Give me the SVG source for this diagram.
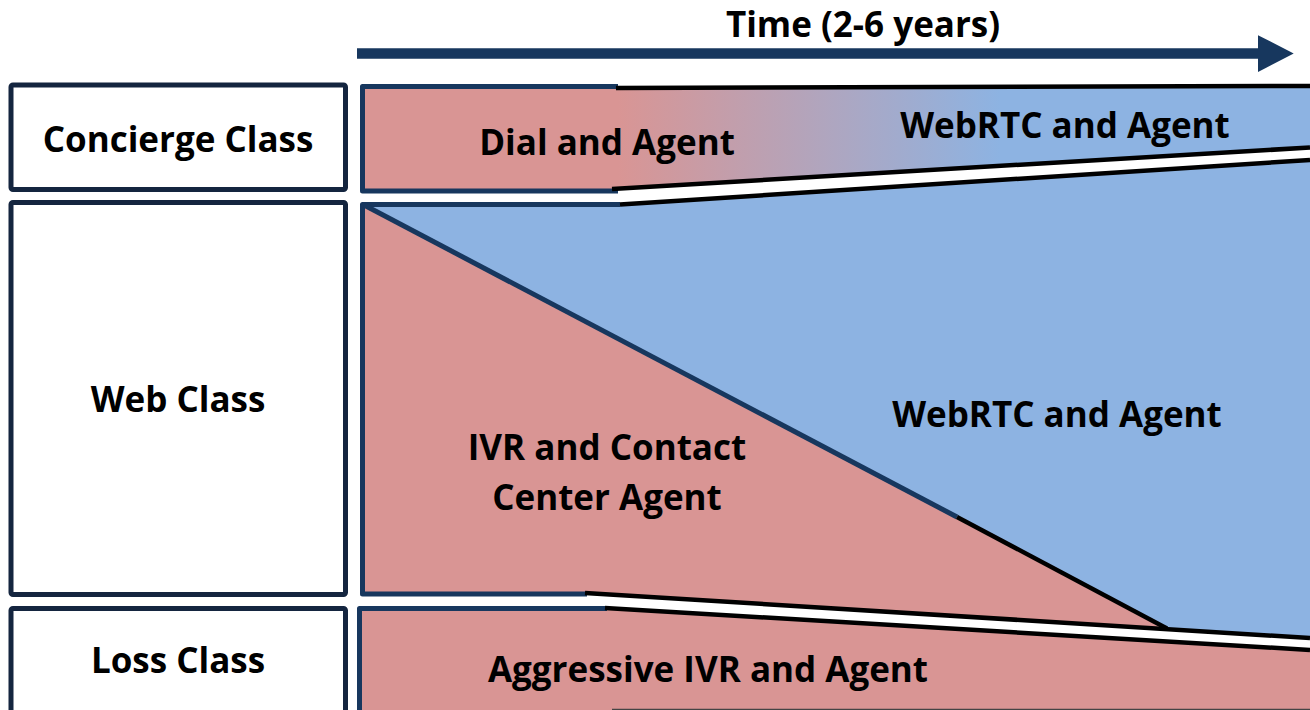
<svg xmlns="http://www.w3.org/2000/svg" width="1310" height="710" viewBox="0 0 1310 710">
  <style>
    .lbl { font-family: "Open Sans", "Liberation Sans", sans-serif; font-weight: bold; font-size: 35px; fill: #000; text-anchor: middle; }
    .box { fill: #fff; stroke: #14253f; stroke-width: 5; }
    .edge { fill: none; stroke: #17375e; stroke-width: 5; stroke-linejoin: round; }
    .rule { fill: none; stroke: #000; stroke-width: 4.5; }
    .pink { fill: #d99594; }
    .blue { fill: #8db3e2; }
  </style>
  <defs>
    <linearGradient id="shift" gradientUnits="userSpaceOnUse" x1="618" y1="0" x2="1000" y2="0">
      <stop offset="0" stop-color="#d99594"/>
      <stop offset="1" stop-color="#8db3e2"/>
    </linearGradient>
    <marker id="head" viewBox="0 0 10 10" refX="0" refY="5" markerWidth="3.4" markerHeight="3.5" markerUnits="strokeWidth" orient="auto" preserveAspectRatio="none">
      <path d="M0,0 L10,5 L0,10 z" fill="#17375e"/>
    </marker>
  </defs>

  <rect width="1310" height="710" fill="#fff"/>

  <!-- row labels -->
  <g id="concierge-class">
    <rect class="box" x="11" y="85" width="334.5" height="104.5" rx="2"/>
    <text class="lbl" x="178" y="152">Concierge Class</text>
  </g>
  <g id="web-class">
    <rect class="box" x="11" y="202.5" width="334.5" height="392" rx="2"/>
    <text class="lbl" x="178" y="412">Web Class</text>
  </g>
  <g id="loss-class">
    <rect class="box" x="11" y="608.5" width="334.5" height="110" rx="2"/>
    <text class="lbl" x="178" y="673">Loss Class</text>
  </g>

  <!-- concierge band: dial fading into WebRTC -->
  <g id="concierge-band">
    <rect class="pink" x="362" y="86.5" width="256" height="104"/>
    <polygon points="616,87.5 1310,86 1310,147.5 616,189" fill="url(#shift)"/>
    <path class="edge" d="M618,86.5 H362.5 V191 H618"/>
    <path class="rule" d="M616,88 L1310,86"/>
    <path class="rule" d="M612,189 L1310,147.5"/>
    <text class="lbl" x="607" y="155">Dial and Agent</text>
    <text class="lbl" x="1065" y="138">WebRTC and Agent</text>
  </g>

  <!-- web band: IVR shrinking, WebRTC growing -->
  <g id="web-band">
    <polygon class="blue" points="362,204 620,204.5 1310,160 1310,638 1165,628 957,517"/>
    <polygon class="pink" points="362,204 957,517 1165,628 585,593 362,594"/>
    <path class="edge" d="M620,204.5 H362.5 V594 H587"/>
    <path class="edge" d="M364,205 L957,517"/>
    <path class="rule" d="M957,517 L1167,628.5"/>
    <path class="rule" d="M620,204.5 L1310,160"/>
    <path class="rule" d="M585,593 L1310,638"/>
    <text class="lbl" x="1057" y="427">WebRTC and Agent</text>
    <text class="lbl" x="607" y="460">IVR and Contact</text>
    <text class="lbl" x="607" y="510">Center Agent</text>
  </g>

  <!-- loss band -->
  <g id="loss-band">
    <polygon class="pink" points="359,608 607,608 1310,650 1310,710 359,710"/>
    <path class="edge" d="M607,608.5 H359.5 V712"/>
    <path class="rule" d="M605,608 L1310,650"/>
    <path d="M612,710 H1310" stroke="#444" stroke-width="2.5"/>
    <text class="lbl" x="708" y="682">Aggressive IVR and Agent</text>
  </g>

  <!-- time axis -->
  <g id="connectors">
    <path d="M357,53.5 H1258" stroke="#17375e" stroke-width="10.5" marker-end="url(#head)"/>
    <text class="lbl" x="863" y="37">Time (2-6 years)</text>
  </g>
</svg>
